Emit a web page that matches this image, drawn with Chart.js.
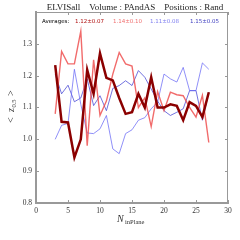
<!DOCTYPE html>
<html><head><meta charset="utf-8">
<script src="https://cdn.jsdelivr.net/npm/chart.js@4"></script>
<style>html,body{margin:0;padding:0;background:#fff}canvas{display:block}</style>
</head><body>
<canvas id="c" width="240" height="240"></canvas>
<script>
const nInPlane = [3,4,5,6,7,8,9,10,11,12,13,14,15,16,17,18,19,20,21,22,23,24,25,26,27];
const seriesDarkRed = [1.233,1.055,1.053,0.943,1.00,1.218,1.143,1.27,1.193,1.185,1.13,1.08,1.085,1.143,1.10,1.195,1.10,1.10,1.11,1.105,1.06,1.117,1.105,1.07,1.148];
const seriesLightRed = [1.08,1.276,1.237,1.237,1.34,0.98,1.25,1.075,1.12,1.205,1.273,1.237,1.23,1.10,1.13,1.04,1.15,1.09,1.148,1.14,1.137,1.10,1.07,1.138,0.99];
const seriesLightBlue = [1.0,1.044,1.05,1.22,1.11,1.02,1.018,1.033,1.075,0.97,0.955,1.018,1.03,1.06,1.068,1.096,1.117,1.205,1.19,1.18,1.226,1.153,1.153,1.24,1.22];
const seriesBlue = [1.205,1.143,1.17,1.118,1.13,1.19,1.106,1.137,1.09,1.16,1.169,1.184,1.169,1.216,1.195,1.158,1.12,1.09,1.075,1.085,1.096,1.153,1.153,1.06,1.148];
const averageLabels = ["1.12\u00b10.07","1.14\u00b10.10","1.11\u00b10.08","1.15\u00b10.05"];
const xTicks = [0,5,10,15,20,25,30];
const yTicks = [0.8,0.9,1.0,1.1,1.2,1.3,1.4];

const colors = ['#8b0000','rgba(238,70,70,0.8)','rgba(100,100,245,0.8)','rgba(60,60,210,0.8)'];
const textColors = ['#b01010','#f07070','#8080f0','#4040c0'];
const mk = (arr)=>arr.map((v,i)=>({x:nInPlane[i],y:v}));

const serif = '"Liberation Serif", "DejaVu Serif", serif';

const overlay = {
  id:'overlay',
  afterDraw(chart){
    const ctx = chart.ctx, a = chart.chartArea, xs = chart.scales.x, ys = chart.scales.y;
    ctx.save();
    // frame
    ctx.strokeStyle = '#999'; ctx.lineWidth = 1;
    ctx.beginPath();
    ctx.moveTo(a.left, a.top+0.5); ctx.lineTo(a.right-0.5, a.top+0.5); ctx.lineTo(a.right-0.5, a.bottom);
    ctx.stroke();
    // inward ticks
    ctx.beginPath();
    xTicks.forEach(t=>{const px=Math.round(xs.getPixelForValue(t))+0.5;
      ctx.moveTo(px,a.bottom); ctx.lineTo(px,a.bottom-3);
      ctx.moveTo(px,a.top); ctx.lineTo(px,a.top+3);});
    yTicks.forEach(t=>{const py=Math.round(ys.getPixelForValue(t))+0.5;
      ctx.moveTo(a.left,py); ctx.lineTo(a.left+3,py);
      ctx.moveTo(a.right,py); ctx.lineTo(a.right-3,py);});
    ctx.stroke();
    // title
    ctx.fillStyle = '#222';
    ctx.font = '9px ' + serif;
    ctx.textAlign = 'center'; ctx.textBaseline = 'alphabetic';
    ctx.fillText('ELVISall    Volume : PAndAS    Positions : Rand', 135, 9.5);
    // legend
    ctx.font = '5.5px "DejaVu Sans", sans-serif';
    ctx.textAlign = 'left';
    ctx.fillStyle = '#000';
    ctx.fillText('Averages:', 42, 23);
    const lx = [75,113,150,190];
    averageLabels.forEach((t,i)=>{ctx.fillStyle = textColors[i]; ctx.fillText(t, lx[i], 23);});
    // x label
    ctx.fillStyle = '#333';
    ctx.font = 'italic 10px ' + serif;
    ctx.textAlign = 'left';
    ctx.fillText('N', 117, 222);
    ctx.font = '6.5px ' + serif;
    ctx.fillText('inPlane', 125, 224);
    // y label
    ctx.translate(14, 107);
    ctx.rotate(-Math.PI/2);
    ctx.font = '10px ' + serif;
    ctx.textAlign = 'left';
    ctx.fillText('<', -16, 0);
    ctx.font = 'italic 10px ' + serif;
    ctx.fillText('z', -5, 0);
    ctx.font = '6.5px ' + serif;
    ctx.fillText('0.5', -0.5, 2);
    ctx.font = '10px ' + serif;
    ctx.fillText('>', 11, 0);
    ctx.restore();
  }
};

new Chart(document.getElementById('c'), {
  type:'line',
  data:{datasets:[
    {data:mk(seriesDarkRed), borderColor:colors[0], borderWidth:2.5, pointRadius:0, tension:0, fill:false},
    {data:mk(seriesLightRed), borderColor:colors[1], borderWidth:1.4, pointRadius:0, tension:0, fill:false},
    {data:mk(seriesLightBlue), borderColor:colors[2], borderWidth:0.9, pointRadius:0, tension:0, fill:false},
    {data:mk(seriesBlue), borderColor:colors[3], borderWidth:0.9, pointRadius:0, tension:0, fill:false}
  ]},
  options:{
    responsive:false, animation:false, events:[],
    layout:{padding:{left:0,right:12,top:12,bottom:0}},
    plugins:{legend:{display:false},tooltip:{enabled:false},title:{display:false}},
    scales:{
      x:{type:'linear', min:0, max:30,
        afterBuildTicks(s){s.ticks = xTicks.map(v=>({value:v}));},
        afterFit(s){s.height = 37;},
        grid:{display:false, drawTicks:false},
        border:{display:true, color:'#999', width:2},
        ticks:{padding:4, color:'#333', font:{family:serif, size:7.5}, maxRotation:0}
      },
      y:{type:'linear', min:0.8, max:1.4,
        afterBuildTicks(s){s.ticks = yTicks.map(v=>({value:v}));},
        afterFit(s){s.width = 36;},
        grid:{display:false, drawTicks:false},
        border:{display:true, color:'#999', width:2},
        ticks:{padding:4, color:'#333', font:{family:serif, size:7.5},
          callback:(v)=> (Math.abs(v-1.4)<1e-6 ? '' : v.toFixed(1))}
      }
    }
  },
  plugins:[overlay]
});
</script>
</body></html>
